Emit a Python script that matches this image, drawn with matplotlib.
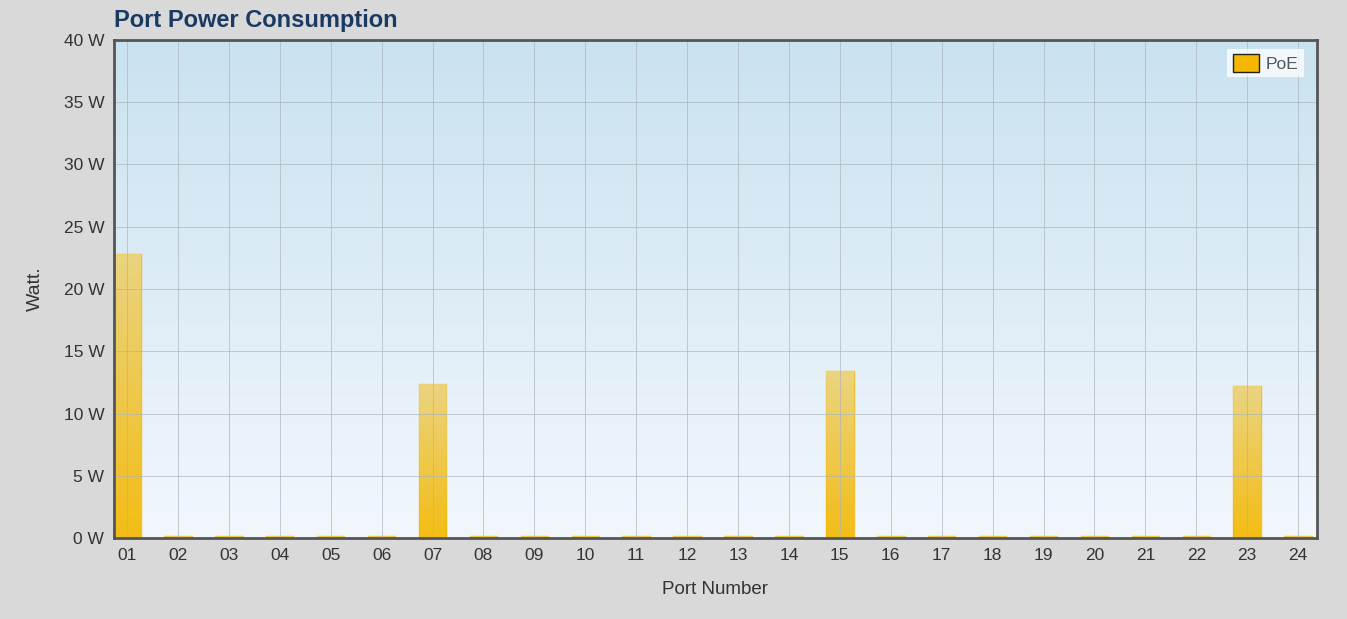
import numpy as np
import matplotlib.pyplot as plt
from matplotlib.colors import LinearSegmentedColormap
from matplotlib.patches import Patch

plt.rcParams['font.family'] = ['Liberation Sans', 'DejaVu Sans']

# Data
ports = ['01', '02', '03', '04', '05', '06', '07', '08', '09', '10', '11', '12',
         '13', '14', '15', '16', '17', '18', '19', '20', '21', '22', '23', '24']
poe_watts = [22.8, 0.15, 0.15, 0.15, 0.15, 0.15, 12.4, 0.15, 0.15, 0.15, 0.15, 0.15,
             0.15, 0.15, 13.4, 0.15, 0.15, 0.15, 0.15, 0.15, 0.15, 0.15, 12.2, 0.15]
y_ticks = [0, 5, 10, 15, 20, 25, 30, 35, 40]

fig = plt.figure(figsize=(13.47, 6.19), dpi=100, facecolor='#d9d9d9')
ax = fig.add_axes([114 / 1347, 1 - 538 / 619, (1317 - 114) / 1347, (538 - 40) / 619])

x = np.arange(1, len(ports) + 1)

# fondo degradado del area de trazado
bg_cmap = LinearSegmentedColormap.from_list('bg', ['#f2f7fd', '#c9e2f0'])
grad = np.linspace(0, 1, 256).reshape(-1, 1)
ax.imshow(grad, extent=[0, 1, 0, 1], transform=ax.transAxes, origin='lower',
          aspect='auto', cmap=bg_cmap, zorder=0)

# barras con degradado
bars = ax.bar(x, poe_watts, width=0.54, color='none', edgecolor='#f0c030',
              linewidth=1.0, zorder=2)
bar_cmap = LinearSegmentedColormap.from_list('bar', ['#f4b800', '#ecd276'])
for b in bars:
    x0, y0 = b.get_x(), b.get_y()
    w, h = b.get_width(), b.get_height()
    im = ax.imshow(grad, extent=[x0, x0 + w, y0, y0 + h], origin='lower',
                   aspect='auto', cmap=bar_cmap, zorder=2, alpha=0.92)
    im.set_clip_path(b)

ax.set_xlim(0.745, 24.37)
ax.set_ylim(0, 40)
ax.set_xticks(x)
ax.set_xticklabels(ports)
ax.set_yticks(y_ticks)
ax.set_yticklabels([str(v) + ' W' for v in y_ticks])
ax.grid(True, color='#a8b2bc', linewidth=0.7, alpha=0.65, zorder=3)
ax.set_axisbelow(False)
ax.tick_params(length=0, labelsize=12.5, labelcolor='#333333', pad=7)

for s in ax.spines.values():
    s.set_color('#555555')
    s.set_linewidth(2)
    s.set_zorder(5)

ax.set_xlabel('Port Number', fontsize=13.5, color='#333333', labelpad=13)
ax.set_ylabel('Watt.', fontsize=14, color='#333333', labelpad=14)
fig.text(114 / 1347, 1 - 21 / 619, 'Port Power Consumption', fontsize=17,
         fontweight='bold', color='#1a3a63', va='center', ha='left')

leg = ax.legend(handles=[Patch(facecolor='#f4b800', edgecolor='#222222', label='PoE')],
                loc='upper right', fontsize=12.5, frameon=True, fancybox=False,
                handlelength=1.5, handleheight=1.2, borderpad=0.3, handletextpad=0.4,
                bbox_to_anchor=(0.996, 1.0))
leg.get_frame().set_facecolor('white')
leg.get_frame().set_alpha(0.75)
leg.get_frame().set_linewidth(0)
for t in leg.get_texts():
    t.set_color('#555555')

fig.savefig('out.png', dpi=100, facecolor=fig.get_facecolor())
